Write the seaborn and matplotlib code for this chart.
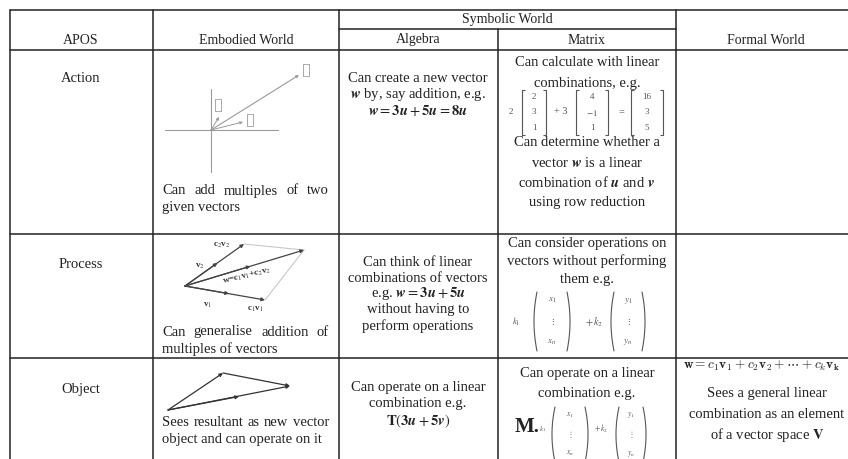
import numpy as np
import pandas as pd
import seaborn as sns
import matplotlib.pyplot as plt

# table content
col_headers = ["APOS", "Embodied World", "Algebra", "Matrix", "Formal World"]
group_header = "Symbolic World"
apos_levels = ["Action", "Process", "Object"]

embodied_text = [
    ["Can add multiples of two", "given vectors"],
    ["Can generalise addition of", "multiples of vectors"],
    ["Sees resultant as new vector", "object and can operate on it"],
]
algebra_text = [
    ["Can create a new vector",
     r"$\mathbfit{w}$ by, say addition, e.g.",
     r"$\mathbfit{w} = \mathbf{3}\mathbfit{u} + \mathbf{5}\mathbfit{u} = \mathbf{8}\mathbfit{u}$"],
    ["Can think of linear", "combinations of vectors",
     r"e.g. $\mathbfit{w} = \mathbf{3}\mathbfit{u} + \mathbf{5}\mathbfit{u}$",
     "without having to", "perform operations"],
    ["Can operate on a linear", "combination e.g.",
     r"$\mathbf{T}(\mathbf{3}\mathbfit{u} + \mathbf{5}\mathbfit{v})$"],
]
matrix_text = [
    ["Can calculate with linear", "combinations, e.g."],
    ["Can consider operations on", "vectors without performing", "them e.g."],
    ["Can operate on a linear", "combination e.g."],
]
matrix_text_after = ["Can determine whether a",
                     r"vector $\mathbfit{w}$ is a linear",
                     r"combination of $\mathbfit{u}$ and $\mathbfit{v}$",
                     "using row reduction"]
formal_formula = r"$\mathbf{w} = c_1\mathbf{v_1} + c_2\mathbf{v_2} + \cdots + c_k\mathbf{v_k}$"
formal_text = ["Sees a general linear", "combination as an element",
               r"of a vector space $\mathbf{V}$"]

# worked example 2*a + 3*b = c
lc_scalars = ["2", "3"]
lc_vec_a = ["2", "3", "1"]
lc_vec_b = ["4", "$-1$", "1"]
lc_result = ["16", "3", "5"]
sym_vec_x = ["$x_1$", r"$\vdots$", "$x_n$"]
sym_vec_y = ["$y_1$", r"$\vdots$", "$y_n$"]

# sketches in the embodied column (pixel positions of the sketch points)
act_u = np.array([8, 13])
act_v = np.array([32, 8])
act_scal = (3, 2)
proc_pts = {"o": (185, 286), "c2v2": (244, 244), "c1v1": (265, 300), "w": (304, 250)}
obj_pts = {"a": (168, 410), "b": (223, 373), "c": (290, 386)}

# layout
col_edges = [10, 153, 339, 498, 676, 856]
row_tops = [50, 234, 358]
sub_y = 29
INK = "#222222"
GREY = "#555555"

sns.set_theme(style="white")
plt.rcParams["font.family"] = ["Liberation Serif", "DejaVu Serif"]
plt.rcParams["mathtext.fontset"] = "stix"

fig = plt.figure(figsize=(8.48, 4.59), dpi=100)
ax = fig.add_axes([0, 0, 1, 1])

# grid lines of the table
segs = []
def seg(x0, y0, x1, y1):
    k = len(segs) // 2
    segs.append((k, x0, y0))
    segs.append((k, x1, y1))
for y in [10] + row_tops:
    seg(col_edges[0], y, col_edges[-1], y)
seg(col_edges[2], sub_y, col_edges[4], sub_y)
for i, x in enumerate(col_edges):
    seg(x, sub_y if i == 3 else 10, x, 470)
grid = pd.DataFrame(segs, columns=["seg", "x", "y"])
sns.lineplot(data=grid, x="x", y="y", units="seg", estimator=None, sort=False,
             color=INK, lw=1.1, ax=ax)

ax.set_xlim(0, 848)
ax.set_ylim(459, 0)
ax.axis("off")
renderer = fig.canvas.get_renderer()

FS = 10.5

def lines(x, y0, txts, dy, ha="center", fs=FS, **kw):
    for i, t in enumerate(txts):
        ax.text(x, y0 + i * dy, t, ha=ha, va="center", fontsize=fs, color=INK, **kw)

def justified(x0, x1, y, text, fs=FS):
    # spread the words so the line fills x0..x1
    ts = [ax.text(0, y, w, ha="left", va="center", fontsize=fs, color=INK)
          for w in text.split()]
    ws = [t.get_window_extent(renderer).width for t in ts]
    gap = (x1 - x0 - sum(ws)) / (len(ts) - 1)
    x = x0
    for t, w in zip(ts, ws):
        t.set_x(x)
        x += w + gap

def colvec(xc, y0, y1, entries, w, kind="[", fs=6.5, color=GREY, lw=0.8):
    n = len(entries)
    for i, e in enumerate(entries):
        yy = y0 + (y1 - y0) * (0.15 + 0.7 * i / max(n - 1, 1))
        ax.text(xc, yy, e, ha="center", va="center", fontsize=fs, color=color)
    if kind == "[":
        for s in (-1, 1):
            xe = xc + s * w / 2
            ax.plot([xe - s * 3, xe, xe, xe - s * 3], [y0, y0, y1, y1],
                    color=color, lw=lw, solid_capstyle="butt")
    else:
        t = np.linspace(-1, 1, 40)
        ym = (y0 + y1) / 2
        for s in (-1, 1):
            ax.plot(xc + s * (w / 2 - 3 * t ** 2), ym + t * (y1 - y0) / 2,
                    color=color, lw=lw)

def arrow(p0, p1, color, lw=0.9, ms=6):
    ax.annotate("", xy=p1, xytext=p0,
                arrowprops=dict(arrowstyle="-|>", mutation_scale=ms, lw=lw,
                                color=color, shrinkA=0, shrinkB=0))

# header
hdr_fs = 10
ax.text(81, 41, col_headers[0], ha="center", va="center", fontsize=hdr_fs, color=INK)
ax.text(246, 41, col_headers[1], ha="center", va="center", fontsize=hdr_fs, color=INK)
ax.text(418, 40, col_headers[2], ha="center", va="center", fontsize=hdr_fs, color=INK)
ax.text(587, 40, col_headers[3], ha="center", va="center", fontsize=hdr_fs, color=INK)
ax.text(766, 41, col_headers[4], ha="center", va="center", fontsize=hdr_fs, color=INK)
ax.text(507, 19, group_header, ha="center", va="center", fontsize=hdr_fs, color=INK)

# APOS column
for lvl, y in zip(apos_levels, [79, 265, 389]):
    ax.text(81, y, lvl, ha="center", va="center", fontsize=FS, color=INK)

# embodied column text
for (l1, l2), y in zip(embodied_text, [191, 332, 423]):
    justified(162, 329, y, l1)
    ax.text(162, y + 17, l2, ha="left", va="center", fontsize=FS, color=INK)

# action sketch
o = np.array([211, 130])
lg = "#9a9a9a"
ax.plot([165, 278], [130, 130], color=lg, lw=0.8)
ax.plot([211, 211], [89, 172], color=lg, lw=0.8)
flip = np.array([1, -1])
pu = o + act_u * flip
pv = o + act_v * flip
pw = o + (act_scal[0] * act_u + act_scal[1] * act_v) * flip
arrow(o, pu, lg, lw=0.7, ms=4)
arrow(o, pv, lg, lw=0.7, ms=4)
arrow(o, pw, lg, lw=0.8, ms=4)
for p, d in [(pu, (-1, -12)), (pv, (7, -2)), (pw, (7, -5))]:
    colvec(p[0] + d[0], p[1] + d[1] - 6, p[1] + d[1] + 6, ["", ""], 6, "[",
           color=lg, lw=0.6)

# process sketch
pp = proc_pts
for a, b in [("c2v2", "w"), ("c1v1", "w")]:
    ax.plot([pp[a][0], pp[b][0]], [pp[a][1], pp[b][1]], color="#c8c8c8", lw=0.8)
for key in ["c2v2", "c1v1", "w"]:
    p0, p1 = np.array(pp["o"]), np.array(pp[key])
    arrow(p0, p1, "#444444", lw=0.9, ms=5)
    arrow(p0, p0 + 0.55 * (p1 - p0), "#444444", lw=0.9, ms=5)
plab = dict(fontsize=6.5, color="#333333", fontweight="bold", ha="center", va="center")
ax.text(222, 245, r"c$_2$v$_2$", **plab)
ax.text(200, 266, r"v$_2$", **plab)
ax.text(208, 305, r"v$_1$", **plab)
ax.text(255, 309, r"c$_1$v$_1$", **plab)
ax.text(247, 276, r"w=c$_1$v$_1$+c$_2$v$_2$", rotation=14, **plab)

# object sketch
op = obj_pts
for a, b in [("a", "b"), ("b", "c"), ("a", "c")]:
    arrow(op[a], op[b], "#333333", lw=0.9, ms=5)
arrow(op["a"], (np.array(op["a"]) + np.array(op["c"])) / 2 + [10, -1.5], "#333333", ms=5)

# algebra column
lines(418, 78, algebra_text[0], 16.5)
lines(418, 262, algebra_text[1], 16)
lines(418, 387, algebra_text[2], 17)

# matrix column
lines(587, 63, matrix_text[0], 20)
lines(587, 143, matrix_text_after, 19.7)
lines(587, 244, matrix_text[1], 17.5)
lines(587, 373, matrix_text[2], 20)

ms_fs = 6.5
ax.text(511, 112, lc_scalars[0], ha="center", va="center", fontsize=ms_fs, color=GREY)
colvec(534, 90, 135, lc_vec_a, 24)
ax.text(561, 112, "+ " + lc_scalars[1], ha="center", va="center", fontsize=ms_fs + 1, color=GREY)
colvec(592, 90, 135, lc_vec_b, 32)
ax.text(621, 112, "=", ha="center", va="center", fontsize=ms_fs + 1, color=GREY)
colvec(647, 90, 135, lc_result, 32)

ax.text(516, 322, "$k_1$", ha="center", va="center", fontsize=ms_fs, color=GREY)
colvec(552, 292, 351, sym_vec_x, 36, "(")
ax.text(594, 322, "$+\\,k_2$", ha="center", va="center", fontsize=ms_fs + 1, color=GREY)
colvec(628, 292, 351, sym_vec_y, 34, "(")

ax.text(527, 427, "M.", ha="center", va="center", fontsize=15, fontweight="bold", color=INK)
ax.text(543, 429, "$k_1$", ha="center", va="center", fontsize=5, color=GREY)
colvec(570, 407, 462, sym_vec_x, 36, "(", fs=5.5)
ax.text(601, 429, "$+\\,k_2$", ha="center", va="center", fontsize=5.5, color=GREY)
colvec(631, 407, 462, sym_vec_y, 30, "(", fs=5.5)

# formal column
ax.text(683, 366, formal_formula, ha="left", va="center", fontsize=9.6,
        color=INK, math_fontfamily="cm")
lines(767, 393, formal_text, 21)

fig.savefig("out.png", dpi=100)
